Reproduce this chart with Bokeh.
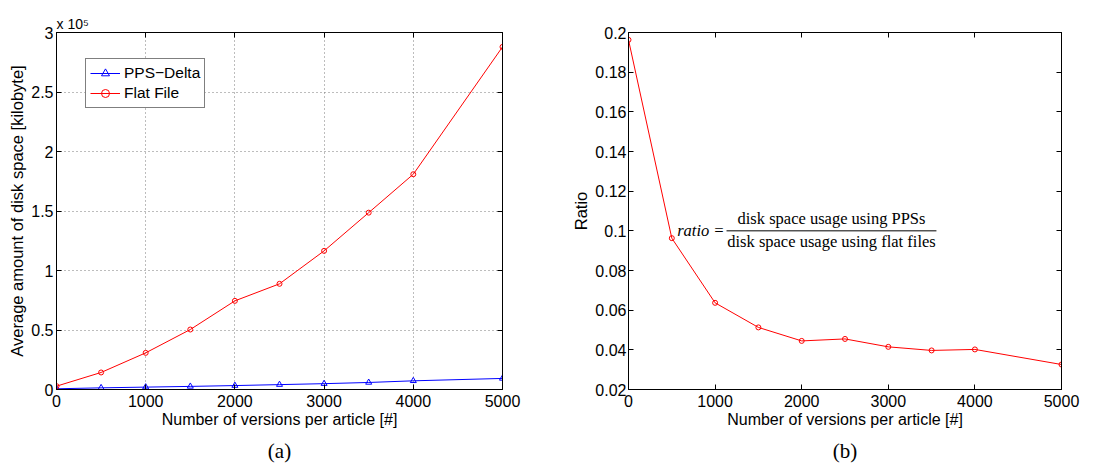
from bokeh.plotting import figure
from bokeh.models import LinearAxis, FixedTicker, Label, Legend, LegendItem, Range1d, Title
from bokeh.layouts import row
from bokeh.embed import file_html
from bokeh.resources import INLINE

# Measurements: number of stored versions per article
versions = [0, 500, 1000, 1500, 2000, 2500, 3000, 3500, 4000, 5000]
# Average disk space per article [kilobyte]
pps_delta_kb = [600, 1400, 2000, 2600, 3300, 4100, 4900, 5900, 7300, 9300]
flat_file_kb = [2800, 14300, 30800, 50400, 74500, 88800, 116500, 148600, 180900, 287900]
# Disk space ratio PPS / flat file
ratio = [0.1963, 0.0963, 0.0637, 0.0513, 0.0445, 0.0455, 0.0415, 0.0397, 0.0402, 0.0326]

x_ticks = [0, 1000, 2000, 3000, 4000, 5000]
size_ticks = [0, 50000, 100000, 150000, 200000, 250000, 300000]
size_tick_labels = ["0", "0.5", "1", "1.5", "2", "2.5", "3"]
ratio_ticks = [0.02, 0.04, 0.06, 0.08, 0.10, 0.12, 0.14, 0.16, 0.18, 0.20]
ratio_tick_labels = ["0.02", "0.04", "0.06", "0.08", "0.1", "0.12", "0.14", "0.16", "0.18", "0.2"]

SANS = "Liberation Sans"
SERIF = "Liberation Serif"
FS = "16px"


def style_axis(ax):
    ax.major_tick_in = 5
    ax.major_tick_out = 0
    ax.minor_tick_line_color = None
    ax.axis_line_color = "black"
    ax.major_tick_line_color = "black"
    ax.major_label_text_font = SANS
    ax.major_label_text_font_size = FS
    ax.major_label_text_color = "black"
    ax.major_label_standoff = 5
    ax.axis_label_text_font = SANS
    ax.axis_label_text_font_size = FS
    ax.axis_label_text_font_style = "normal"
    ax.axis_label_text_color = "black"


def boxed(p, xt, yt):
    # mirrored tick marks (no labels) on the top and right edges
    top = LinearAxis(ticker=FixedTicker(ticks=xt))
    right = LinearAxis(ticker=FixedTicker(ticks=yt))
    for ax, ticks in ((top, xt), (right, yt)):
        style_axis(ax)
        ax.major_label_overrides = {t: "" for t in ticks}
        ax.major_label_standoff = 0
    p.add_layout(top, "above")
    p.add_layout(right, "right")
    p.outline_line_color = "black"
    p.outline_line_width = 1


def caption(p, text):
    t = Title(text=text, align="center", text_font=SERIF, text_font_size="21px",
              text_font_style="normal", text_color="black", standoff=12)
    p.add_layout(t, "below")


# ---------- (a) absolute disk space ----------
p1 = figure(width=560, height=470, x_range=Range1d(0, 5000), y_range=Range1d(0, 300000),
            output_backend="svg", toolbar_location=None,
            min_border_left=56, min_border_right=58, min_border_top=32, min_border_bottom=81)
p1.background_fill_color = "white"
p1.border_fill_color = "white"
p1.xaxis.ticker = FixedTicker(ticks=x_ticks)
p1.yaxis.ticker = FixedTicker(ticks=size_ticks)
p1.yaxis.major_label_overrides = dict(zip(size_ticks, size_tick_labels))
p1.xaxis.axis_label = "Number of versions per article [#]"
p1.yaxis.axis_label = "Average amount of disk space [kilobyte]"
for ax in p1.axis:
    style_axis(ax)
p1.xaxis.axis_label_standoff = 1
p1.yaxis.major_label_standoff = 3
p1.yaxis.axis_label_standoff = 2
p1.yaxis.axis_label_text_font_size = "16.5px"
p1.xgrid.ticker = FixedTicker(ticks=x_ticks)
p1.ygrid.ticker = FixedTicker(ticks=size_ticks)
for g in (p1.xgrid, p1.ygrid):
    g.grid_line_color = "#7a7a7a"
    g.grid_line_dash = "1 3"
    g.grid_line_width = 1
boxed(p1, x_ticks, size_ticks)

pps_line = p1.line(versions, pps_delta_kb, line_color="#0000ff", line_width=1)
pps_mark = p1.scatter(versions, pps_delta_kb, marker="triangle", size=6,
                      line_color="#0000ff", fill_color=None)
flat_line = p1.line(versions, flat_file_kb, line_color="#ff0000", line_width=1)
flat_mark = p1.scatter(versions, flat_file_kb, marker="circle", size=5,
                       line_color="#ff0000", fill_color=None)

legend = Legend(items=[LegendItem(label="PPS\u2212Delta", renderers=[pps_line, pps_mark]),
                       LegendItem(label="Flat File", renderers=[flat_line, flat_mark])],
                location=(29, 281))
legend.label_text_font = SANS
legend.label_text_font_size = "15.5px"
legend.label_text_color = "black"
legend.glyph_width = 30
legend.glyph_height = 20
legend.label_height = 20
legend.label_standoff = 4
legend.spacing = 0
legend.padding = 4
legend.margin = 0
legend.border_line_color = "black"
legend.border_line_width = 1
legend.background_fill_alpha = 1
p1.add_layout(legend)

p1.add_layout(Title(text="x 10\u2075", align="left", text_font=SANS, text_font_size="14px",
                    text_font_style="normal", text_color="black", standoff=2), "above")
caption(p1, "(a)")

# ---------- (b) ratio ----------
p2 = figure(width=546, height=470, x_range=Range1d(0, 5000), y_range=Range1d(0.02, 0.2),
            output_backend="svg", toolbar_location=None,
            min_border_left=68, min_border_right=45, min_border_top=32, min_border_bottom=81)
p2.background_fill_color = "white"
p2.border_fill_color = "white"
p2.grid.visible = False
p2.xaxis.ticker = FixedTicker(ticks=x_ticks)
p2.yaxis.ticker = FixedTicker(ticks=ratio_ticks)
p2.yaxis.major_label_overrides = dict(zip(ratio_ticks, ratio_tick_labels))
p2.xaxis.axis_label = "Number of versions per article [#]"
p2.yaxis.axis_label = "Ratio"
for ax in p2.axis:
    style_axis(ax)
p2.xaxis.axis_label_standoff = 1
p2.yaxis.major_label_standoff = 2
p2.yaxis.axis_label_standoff = 2
p2.yaxis.axis_label_text_font_size = "16.5px"
boxed(p2, x_ticks, ratio_ticks)

p2.line(versions, ratio, line_color="#ff0000", line_width=1)
p2.scatter(versions, ratio, marker="circle", size=5, line_color="#ff0000", fill_color=None)

# formula annotation
fx, fy = 2344, 0.1
p2.add_layout(Label(x=fx, y=fy, x_offset=-107, text="ratio =", text_font=SERIF,
                    text_font_style="italic", text_font_size="16.5px", text_align="right",
                    text_baseline="middle", text_color="black"))
p2.add_layout(Label(x=fx, y=fy, y_offset=12, text="disk space usage using PPSs", text_font=SERIF,
                    text_font_size="16.5px", text_align="center", text_baseline="middle",
                    text_color="black"))
p2.add_layout(Label(x=fx, y=fy, y_offset=-11, text="disk space usage using flat files",
                    text_font=SERIF, text_font_size="16.5px", text_align="center",
                    text_baseline="middle", text_color="black"))
p2.segment(x0=[fx - 1212], y0=[fy], x1=[fx + 1212], y1=[fy], line_color="black", line_width=1)

caption(p2, "(b)")

layout = row(p1, p2)
open("out.html", "w").write(file_html(layout, INLINE))
